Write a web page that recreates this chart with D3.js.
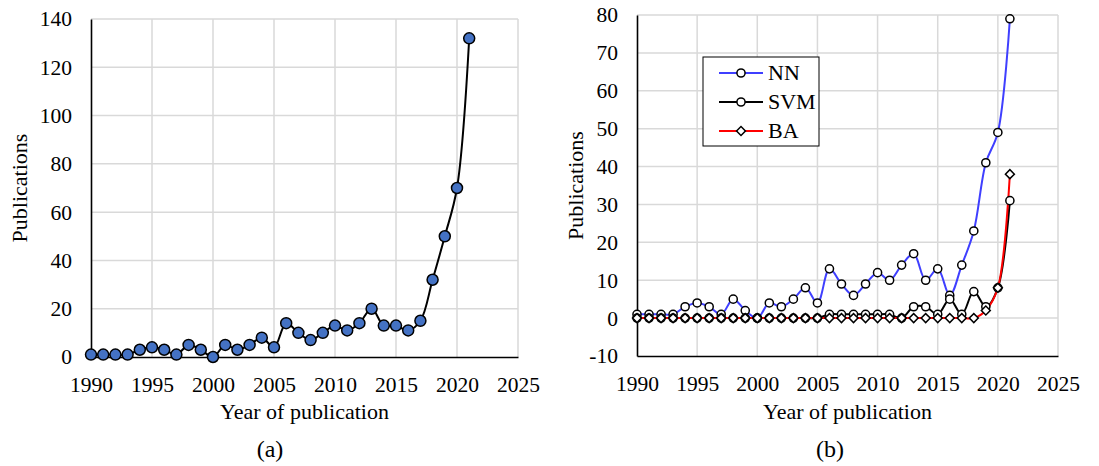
<!DOCTYPE html>
<html>
<head>
<meta charset="utf-8">
<script src="https://cdn.jsdelivr.net/npm/d3@7"></script>
<style>
  html, body { margin: 0; padding: 0; background: #fff; }
  svg { display: block; }
  svg text { font-family: 'Liberation Serif', 'Times New Roman', Tinos, 'DejaVu Serif', serif; }
</style>
</head>
<body>
<svg id="chart" width="1099" height="466"></svg>
<script>
// Publication years
const years = d3.range(1990, 2022);

// (a) total publications per year
const totalPubs = [1, 1, 1, 1, 3, 4, 3, 1, 5, 3, 0, 5, 3, 5, 8, 4, 14, 10, 7, 10, 13, 11, 14, 20, 13, 13, 11, 15, 32, 50, 70, 132];

// (b) publications per method
const nnPubs  = [1, 1, 1, 1, 3, 4, 3, 1, 5, 2, 0, 4, 3, 5, 8, 4, 13, 9, 6, 9, 12, 10, 14, 17, 10, 13, 6, 14, 23, 41, 49, 79];
const svmPubs = [0, 0, 0, 0, 0, 0, 0, 0, 0, 0, 0, 0, 0, 0, 0, 0, 1, 1, 1, 1, 1, 1, 0, 3, 3, 1, 5, 1, 7, 3, 8, 31];
const baPubs  = [0, 0, 0, 0, 0, 0, 0, 0, 0, 0, 0, 0, 0, 0, 0, 0, 0, 0, 0, 0, 0, 0, 0, 0, 0, 0, 0, 0, 0, 2, 8, 38];

const seriesNames = ["NN", "SVM", "BA"];
const xTicks = [1990, 1995, 2000, 2005, 2010, 2015, 2020, 2025];
const yTicksA = [0, 20, 40, 60, 80, 100, 120, 140];
const yTicksB = [-10, 0, 10, 20, 30, 40, 50, 60, 70, 80];

const svg = d3.select("#chart");
const gridColor = "#d9d9d9";
const tickFont = 21.5;
const titleFont = 22;
const captionFont = 24;
const plainNumber = d => String(d);   // plain hyphen for negatives

function drawFrame(x, y, xt, yt, baseValue, titleX, captionX, caption) {
  const g = svg.append("g");
  const [x0, x1] = x.range();
  const [yb, yTop] = y.range();

  // grid lines
  g.append("g").selectAll("line").data(yt.filter(v => v !== y.domain()[0]))
    .join("line")
    .attr("x1", x0).attr("x2", x1)
    .attr("y1", d => y(d)).attr("y2", d => y(d))
    .attr("stroke", gridColor).attr("stroke-width", 1.5);
  g.append("g").selectAll("line").data(xt.slice(1))
    .join("line")
    .attr("x1", d => x(d)).attr("x2", d => x(d))
    .attr("y1", yTop).attr("y2", yb)
    .attr("stroke", gridColor).attr("stroke-width", 1.5);

  // y axis
  const ya = g.append("g")
    .attr("transform", `translate(${x0},0)`)
    .call(d3.axisLeft(y).tickValues(yt).tickSize(0).tickPadding(19).tickFormat(plainNumber));
  ya.attr("font-family", null).attr("font-size", tickFont);
  ya.select(".domain").attr("stroke", "#000").attr("stroke-width", 1.6);
  ya.selectAll("text").attr("fill", "#000");

  // x axis at the base value
  const xa = g.append("g")
    .attr("transform", `translate(0,${y(baseValue)})`)
    .call(d3.axisBottom(x).tickValues(xt).tickSize(0).tickPadding(20).tickFormat(plainNumber));
  xa.attr("font-family", null).attr("font-size", tickFont);
  xa.select(".domain").attr("stroke", "#000").attr("stroke-width", 1.6);
  xa.selectAll("text").attr("fill", "#000");

  // titles
  svg.append("text")
    .attr("x", (x0 + x1) / 2).attr("y", 419)
    .attr("text-anchor", "middle").attr("font-size", titleFont)
    .text("Year of publication");
  svg.append("text")
    .attr("transform", `translate(${titleX},${(yb + yTop) / 2}) rotate(-90)`)
    .attr("text-anchor", "middle").attr("font-size", titleFont)
    .text("Publications");
  svg.append("text")
    .attr("x", captionX).attr("y", 457)
    .attr("text-anchor", "middle").attr("font-size", captionFont)
    .text(caption);
}

// ---------- (a) ----------
const xA = d3.scaleLinear().domain([1990, 2025]).range([91, 518]);
const yA = d3.scaleLinear().domain([0, 140]).range([357, 19]);
drawFrame(xA, yA, xTicks, yTicksA, 0, 27, 270, "(a)");

const lineA = d3.line().x((d, i) => xA(years[i])).y(d => yA(d)).curve(d3.curveCatmullRom.alpha(0.5));
svg.append("path").datum(totalPubs)
  .attr("d", lineA).attr("fill", "none").attr("stroke", "#000").attr("stroke-width", 2);
svg.append("g").selectAll("circle").data(totalPubs).join("circle")
  .attr("cx", (d, i) => xA(years[i])).attr("cy", d => yA(d)).attr("r", 5.5)
  .attr("fill", "#4472C4").attr("stroke", "#000").attr("stroke-width", 1.5);

// ---------- (b) ----------
const xB = d3.scaleLinear().domain([1990, 2025]).range([637, 1058]);
const yB = d3.scaleLinear().domain([-10, 80]).range([356, 15]);
drawFrame(xB, yB, xTicks, yTicksB, -10, 583, 830, "(b)");

const series = [
  { name: seriesNames[0], values: nnPubs,  color: "#3f3fff", marker: "circle" },
  { name: seriesNames[1], values: svmPubs, color: "#000000", marker: "circle" },
  { name: seriesNames[2], values: baPubs,  color: "#ff0000", marker: "diamond" }
];
const lineB = d3.line().x((d, i) => xB(years[i])).y(d => yB(d)).curve(d3.curveCatmullRom.alpha(0.5));
const circleSym = d3.symbol().type(d3.symbolCircle).size(52);
const diamondSym = d3.symbol().type(d3.symbolSquare).size(40);

function drawMarker(sel, type) {
  if (type === "circle") {
    sel.append("path").attr("d", circleSym());
  } else {
    sel.append("path").attr("d", diamondSym()).attr("transform", "rotate(45)");
  }
  sel.select("path").attr("fill", "#fff").attr("stroke", "#000").attr("stroke-width", 1.5);
}

series.forEach(s => {
  svg.append("path").datum(s.values)
    .attr("d", lineB).attr("fill", "none").attr("stroke", s.color).attr("stroke-width", 2);
});
series.forEach(s => {
  svg.append("g").selectAll("g").data(s.values).join("g")
    .attr("transform", (d, i) => `translate(${xB(years[i])},${yB(d)})`)
    .each(function () { drawMarker(d3.select(this), s.marker); });
});

// legend
const legend = svg.append("g").attr("transform", "translate(703,57)");
legend.append("rect").attr("width", 116).attr("height", 89)
  .attr("fill", "#fff").attr("stroke", "#000").attr("stroke-width", 1);
series.forEach((s, i) => {
  const row = legend.append("g").attr("transform", `translate(0,${16 + i * 29})`);
  row.append("line").attr("x1", 16).attr("x2", 60).attr("y1", 0).attr("y2", 0)
    .attr("stroke", s.color).attr("stroke-width", 2);
  const m = row.append("g").attr("transform", "translate(38,0)");
  drawMarker(m, s.marker);
  row.append("text").attr("x", 65).attr("y", 0).attr("dy", "0.34em")
    .attr("font-size", titleFont).text(s.name);
});
</script>
</body>
</html>
